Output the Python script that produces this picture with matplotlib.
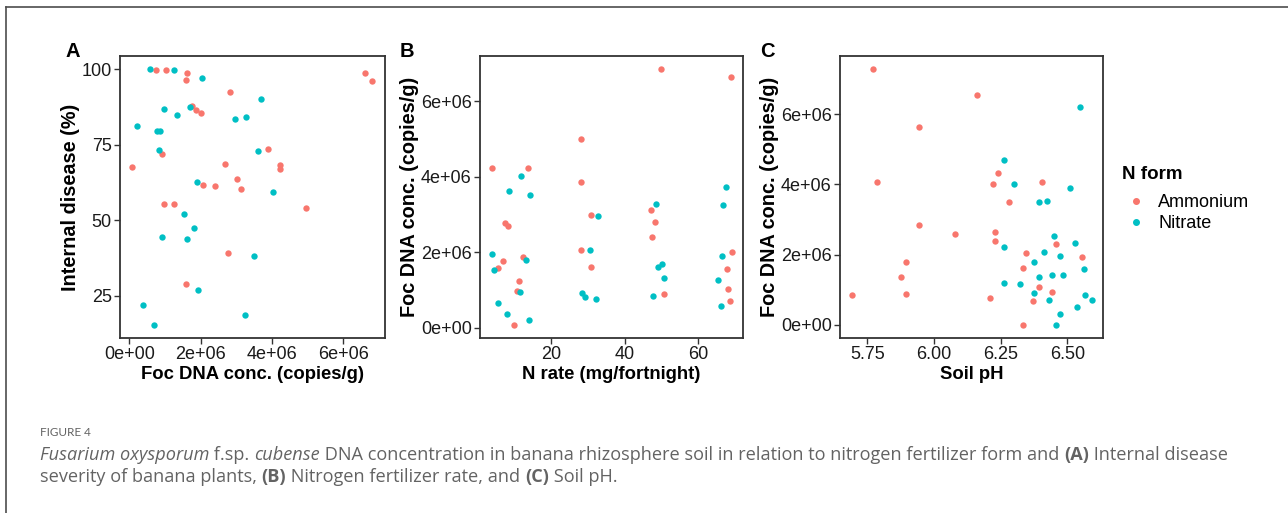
import matplotlib
matplotlib.use('Agg')
import matplotlib.pyplot as plt
from matplotlib.lines import Line2D
import numpy as np

# ---------------- data ----------------
# Panel A: Foc DNA conc. (x) vs internal disease % (y)
a_amm_x = [0.075e6, 0.738e6, 1.037e6, 1.626e6, 1.58e6, 2.83e6, 1.766e6, 1.878e6, 2.01e6,
           0.907e6, 3.888e6, 4.234e6, 4.234e6, 2.673e6, 3.009e6, 3.121e6, 2.065e6, 2.402e6,
           0.981e6, 1.243e6, 4.963e6, 2.766e6, 1.598e6, 6.607e6, 6.813e6]
a_amm_y = [67.6, 99.6, 99.6, 98.7, 96.4, 92.5, 87.8, 86.5, 85.6,
           71.8, 73.6, 68.2, 66.9, 68.5, 63.5, 60.2, 61.8, 61.5,
           55.4, 55.4, 54.1, 39.1, 28.9, 98.7, 96.0]
a_nit_x = [0.589e6, 1.252e6, 2.037e6, 3.692e6, 1.71e6, 0.981e6, 1.327e6, 2.953e6, 3.262e6,
           0.224e6, 0.776e6, 0.85e6, 0.832e6, 3.607e6, 1.897e6, 4.019e6, 1.523e6, 1.822e6,
           0.925e6, 1.626e6, 3.505e6, 1.925e6, 0.383e6, 3.252e6, 0.682e6]
a_nit_y = [99.9, 99.6, 97.0, 90.0, 87.3, 86.8, 84.9, 83.6, 84.2,
           81.3, 79.4, 79.4, 73.3, 73.0, 62.7, 59.5, 52.1, 47.6,
           44.4, 43.9, 38.1, 26.9, 22.1, 18.8, 15.3]

# Panel B: N rate (x) vs Foc DNA conc. (y)
b_amm_x = [3.95, 5.49, 6.76, 7.30, 8.12, 11.29, 10.75, 12.38, 13.65, 9.93,
           28.16, 28.16, 28.16, 30.79, 30.79, 49.93, 47.30, 48.39, 47.57, 50.84,
           68.98, 69.16, 67.80, 68.07, 68.71]
b_amm_y = [4.23e6, 1.575e6, 1.77e6, 2.77e6, 2.69e6, 1.23e6, 0.973e6, 1.867e6, 4.23e6, 0.062e6,
           5.0e6, 3.867e6, 2.07e6, 3.0e6, 1.61e6, 6.85e6, 3.124e6, 2.814e6, 2.407e6, 0.885e6,
           6.646e6, 2.0e6, 1.558e6, 1.018e6, 0.708e6]
b_nit_x = [3.95, 4.49, 5.49, 7.94, 8.39, 11.75, 11.56, 13.2, 14.2, 13.92,
           28.34, 29.16, 30.52, 32.24, 32.79, 48.66, 49.21, 50.11, 50.75, 47.85,
           67.53, 66.80, 66.44, 65.35, 66.26]
b_nit_y = [1.947e6, 1.54e6, 0.664e6, 0.354e6, 3.62e6, 4.027e6, 0.947e6, 1.788e6, 3.513e6, 0.204e6,
           0.929e6, 0.814e6, 2.07e6, 0.761e6, 2.973e6, 3.283e6, 1.61e6, 1.69e6, 1.327e6, 0.841e6,
           3.717e6, 3.265e6, 1.894e6, 1.257e6, 0.584e6]

# Panel C: soil pH (x) vs Foc DNA conc. (y)
c_amm_x = [5.693, 5.771, 5.787, 5.895, 5.876, 5.896, 5.946, 5.946, 6.080, 6.160,
           6.239, 6.221, 6.283, 6.228, 6.228, 6.211, 6.405, 6.344, 6.333, 6.395,
           6.370, 6.333, 6.457, 6.443, 6.555]
c_amm_y = [0.845e6, 7.27e6, 4.073e6, 1.794e6, 1.377e6, 0.873e6, 5.639e6, 2.839e6, 2.592e6, 6.532e6,
           4.329e6, 3.997e6, 3.494e6, 2.639e6, 2.392e6, 0.769e6, 4.073e6, 2.041e6, 1.623e6, 1.073e6,
           0.693e6, 0.0, 2.307e6, 0.930e6, 1.927e6]
c_nit_x = [6.264, 6.302, 6.394, 6.424, 6.512, 6.548, 6.264, 6.450, 6.413, 6.474,
           6.529, 6.377, 6.394, 6.441, 6.485, 6.564, 6.264, 6.324, 6.377, 6.431,
           6.565, 6.591, 6.535, 6.474, 6.457]
c_nit_y = [4.681e6, 3.997e6, 3.494e6, 3.522e6, 3.883e6, 6.2e6, 2.231e6, 2.535e6, 2.089e6, 1.956e6,
           2.345e6, 1.794e6, 1.377e6, 1.434e6, 1.434e6, 1.595e6, 1.206e6, 1.158e6, 0.902e6, 0.722e6,
           0.854e6, 0.722e6, 0.522e6, 0.304e6, 0.0]

legend_labels = ['Ammonium', 'Nitrate']
col_amm = '#F8766D'
col_nit = '#00BFC4'

W, H = 1288, 513
fig = plt.figure(figsize=(W / 100, H / 100), dpi=100)
plt.rcParams['font.family'] = ['Liberation Sans', 'DejaVu Sans']


def box(l, r, t, b):
    return [l / W, 1 - b / H, (r - l) / W, (b - t) / H]


def sci(v, pos):
    if v == 0:
        return '0e+00'
    e = int(np.floor(np.log10(abs(v))))
    return f'{v / 10**e:.0f}e+{e:02d}'


def style(ax, xlabel, ylabel, letter, letter_x):
    for s in ax.spines.values():
        s.set_color('#333333')
        s.set_linewidth(1.3)
    ax.tick_params(length=4, width=1, color='#333333', labelsize=13,
                   labelcolor='#1a1a1a', pad=2)
    ax.set_xlabel(xlabel, fontsize=13.3, fontweight='bold', labelpad=2)
    ax.set_ylabel(ylabel, fontsize=14.3, fontweight='bold', labelpad=1)
    fig.text(letter_x / W, 1 - 57 / H, letter, fontsize=14.5,
             fontweight='bold', ha='left', va='baseline')


ms = 21

# Panel A
axA = fig.add_axes(box(120, 385, 56, 338))
axA.scatter(a_amm_x, a_amm_y, s=ms, color=col_amm, linewidths=0, zorder=3)
axA.scatter(a_nit_x, a_nit_y, s=ms, color=col_nit, linewidths=0, zorder=3)
axA.set_xlim(-0.262e6, 7.168e6)
axA.set_ylim(11.1, 104.3)
axA.set_xticks([0, 2e6, 4e6, 6e6])
axA.set_yticks([25, 50, 75, 100])
axA.xaxis.set_major_formatter(plt.FuncFormatter(sci))
style(axA, 'Foc DNA conc. (copies/g)', 'Internal disease (%)', 'A', 65)

# Panel B
axB = fig.add_axes(box(480, 743, 56, 338))
axB.scatter(b_amm_x, b_amm_y, s=ms, color=col_amm, linewidths=0, zorder=3)
axB.scatter(b_nit_x, b_nit_y, s=ms, color=col_nit, linewidths=0, zorder=3)
axB.set_xlim(0.59, 72.24)
axB.set_ylim(-0.274e6, 7.204e6)
axB.set_xticks([20, 40, 60])
axB.set_yticks([0, 2e6, 4e6, 6e6])
axB.yaxis.set_major_formatter(plt.FuncFormatter(sci))
style(axB, 'N rate (mg/fortnight)', 'Foc DNA conc. (copies/g)', 'B', 400)

# Panel C
axC = fig.add_axes(box(840, 1103, 56, 338))
axC.scatter(c_amm_x, c_amm_y, s=ms, color=col_amm, linewidths=0, zorder=3)
axC.scatter(c_nit_x, c_nit_y, s=ms, color=col_nit, linewidths=0, zorder=3)
axC.set_xlim(5.648, 6.634)
axC.set_ylim(-0.370e6, 7.652e6)
axC.set_xticks([5.75, 6.0, 6.25, 6.5])
axC.set_xticklabels(['5.75', '6.00', '6.25', '6.50'])
axC.set_yticks([0, 2e6, 4e6, 6e6])
axC.yaxis.set_major_formatter(plt.FuncFormatter(sci))
style(axC, 'Soil pH', 'Foc DNA conc. (copies/g)', 'C', 760)

# legend
handles = [Line2D([], [], marker='o', ls='', color=c, markersize=4)
           for c in (col_amm, col_nit)]
leg = fig.legend(handles, legend_labels, title='N form', loc='upper left',
                 bbox_to_anchor=(1106 / W, 1 - 150 / H), frameon=False,
                 fontsize=13, title_fontproperties={'weight': 'bold', 'size': 13.5},
                 handletextpad=0.5, labelspacing=0.2, handlelength=1.5)
leg._legend_box.align = 'left'
leg._legend_box.sep = 8

# outer frame (top and left edges)
fig.add_artist(Line2D([6 / W, 6 / W], [0, 1 - 7 / H], transform=fig.transFigure,
                      color='#4d4d4d', lw=1.2))
fig.add_artist(Line2D([6 / W, 1], [1 - 7 / H, 1 - 7 / H], transform=fig.transFigure,
                      color='#4d4d4d', lw=1.2))

# caption
cap_col = '#636363'
fig.text(40 / W, 1 - 433 / H, 'FIGURE 4', fontsize=8.5, color=cap_col,
         family=['Lato', 'DejaVu Sans'], va='center')

renderer = fig.canvas.get_renderer()


def seg_line(x0, y0, parts, size):
    x = x0
    for txt, st, wt in parts:
        t = fig.text(x / W, 1 - y0 / H, txt, fontsize=size, color=cap_col,
                     family=['Open Sans', 'DejaVu Sans'], style=st, weight=wt,
                     va='center', ha='left')
        bb = t.get_window_extent(renderer)
        x += bb.width


line1 = [('Fusarium oxysporum', 'italic', 'normal'), (' f.sp. ', 'normal', 'normal'),
         ('cubense', 'italic', 'normal'),
         (' DNA concentration in banana rhizosphere soil in relation to nitrogen fertilizer form and ',
          'normal', 'normal'),
         ('(A)', 'normal', 'bold'), (' Internal disease', 'normal', 'normal')]
line2 = [('severity of banana plants, ', 'normal', 'normal'), ('(B)', 'normal', 'bold'),
         (' Nitrogen fertilizer rate, and ', 'normal', 'normal'), ('(C)', 'normal', 'bold'),
         (' Soil pH.', 'normal', 'normal')]
seg_line(40, 455, line1, 13.1)
seg_line(40, 477, line2, 13.1)

fig.savefig('out.png', dpi=100)
